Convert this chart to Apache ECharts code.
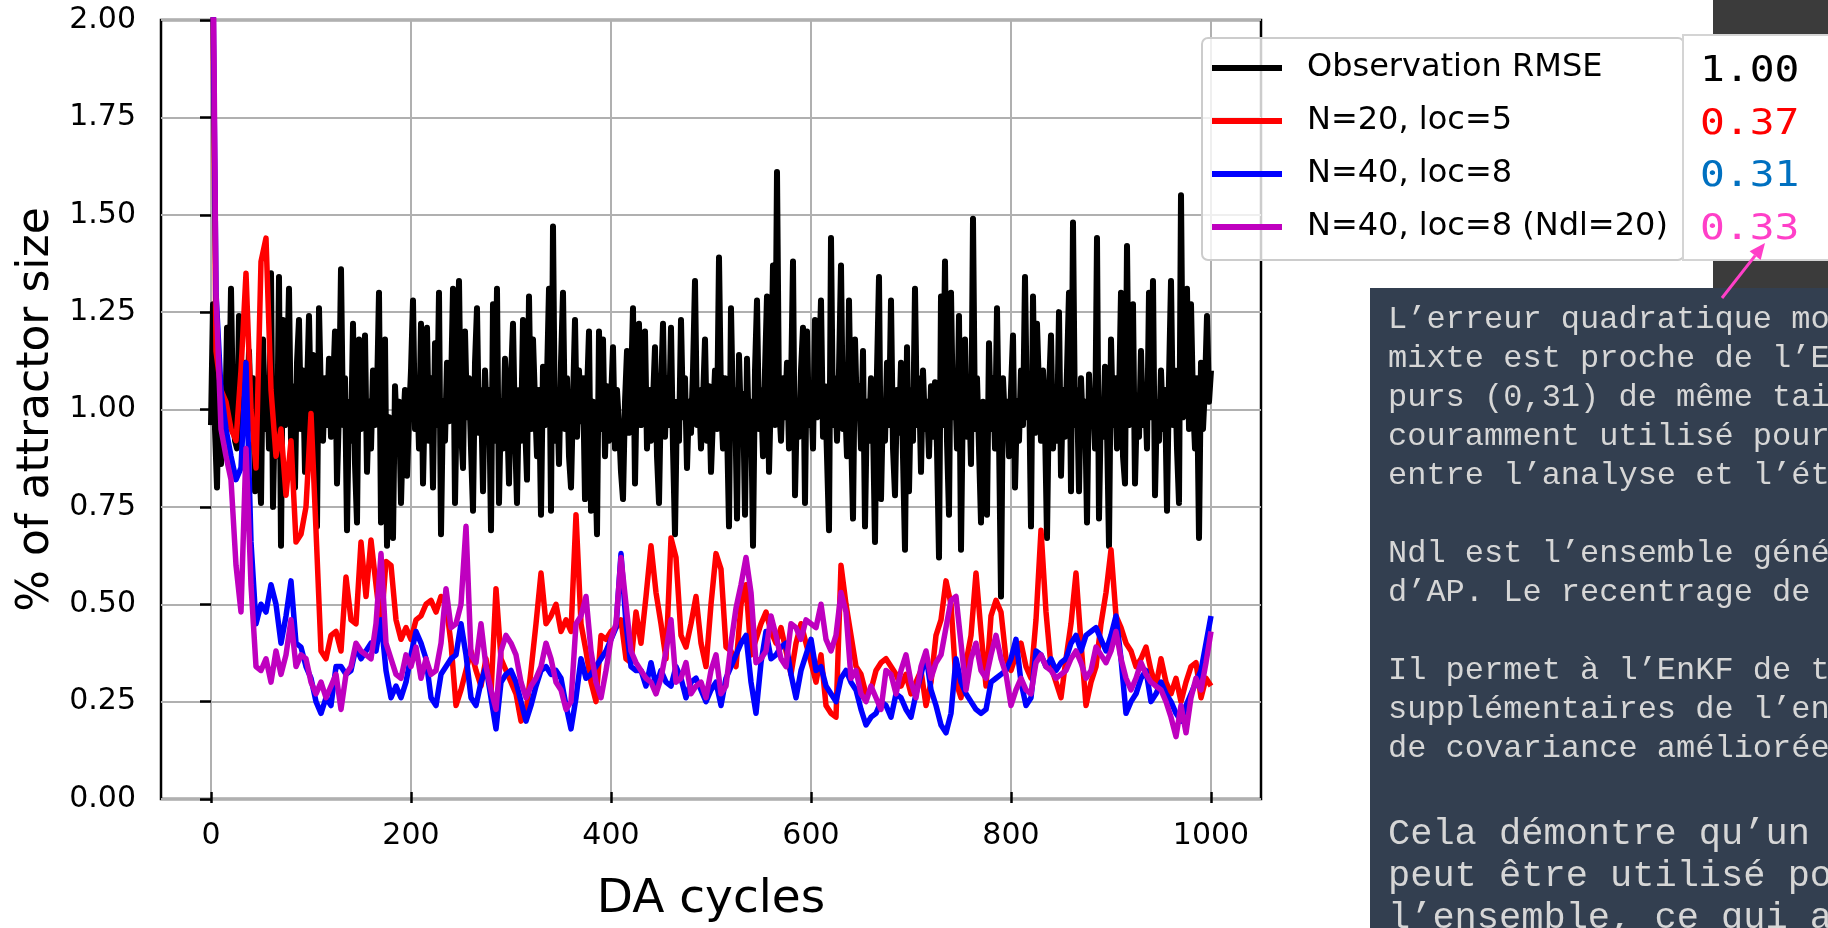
<!DOCTYPE html>
<html>
<head>
<meta charset="utf-8">
<script src="https://cdn.jsdelivr.net/npm/echarts@6/dist/echarts.min.js"></script>
<style>
html,body{margin:0;padding:0;background:#ffffff;}
#chart{width:1828px;height:928px;}
</style>
</head>
<body>
<div id="chart"></div>
<script>
// ---------------- DATA ----------------
const seriesNames = ['Observation RMSE', 'N=20, loc=5', 'N=40, loc=8', 'N=40, loc=8 (Ndl=20)'];
const seriesColors = ['#000000', '#ff0000', '#0000ff', '#bf00bf'];

// DA cycle spacing of the sampled values
const obsStep = 2;
const ensStep = 5;

// Observation RMSE, one value every 2 DA cycles (0..1000)
const obsRMSE = [
0.96,1.27,0.95,0.80,1.10,0.86,1.05,0.92,1.21,0.98,1.31,1.00,0.92,0.90,1.24,1.05,0.94,1.12,0.98,1.15,0.96,1.08,0.79,1.02,0.88,
0.76,1.18,0.95,1.08,0.90,1.35,0.75,1.02,0.88,1.34,0.65,1.23,0.96,1.08,1.31,0.92,1.06,0.80,1.12,1.23,0.95,1.10,0.84,1.05,1.24,
0.98,1.14,0.90,0.70,1.26,1.02,0.92,1.08,0.96,1.13,0.93,1.05,1.20,0.81,1.00,1.36,0.96,1.08,0.69,1.02,0.92,1.22,0.86,0.71,1.18,
0.95,1.08,1.19,0.84,1.02,0.90,1.10,0.96,1.04,1.30,0.71,1.10,1.18,0.65,0.98,0.88,0.67,1.06,0.93,1.02,0.76,0.95,1.05,0.83,0.98,
1.10,1.28,0.95,1.08,0.90,1.22,0.81,1.05,1.21,0.92,1.08,0.80,1.17,0.96,1.30,0.68,1.02,0.92,1.12,0.97,1.05,1.31,0.76,1.06,1.33,
0.95,0.85,1.20,0.98,1.08,0.90,0.74,1.12,1.26,0.94,1.05,0.79,1.10,0.96,1.05,0.69,1.27,0.92,1.31,0.76,1.02,0.90,1.13,1.00,0.81,
1.08,1.22,0.94,0.76,1.05,0.92,1.23,0.97,0.82,1.29,0.95,1.18,1.02,0.88,1.05,0.73,1.11,0.96,1.08,1.31,0.74,1.47,0.92,1.05,0.86,
1.12,1.30,0.95,1.08,0.88,0.80,1.02,1.23,0.93,1.10,0.97,1.08,0.77,1.04,1.20,0.74,1.02,0.90,0.68,1.20,0.95,1.18,0.88,1.06,0.92,
1.02,1.16,0.90,1.05,0.96,0.84,0.77,1.02,1.15,0.94,1.06,1.26,0.81,1.10,1.22,0.96,1.08,1.20,0.90,1.05,0.92,1.02,1.16,0.88,0.76,
1.05,1.22,0.93,1.08,0.96,1.21,0.90,0.68,1.02,0.92,1.23,0.98,1.08,0.85,1.02,0.94,1.10,1.33,0.96,1.05,0.90,1.02,1.18,0.92,1.06,
0.84,0.98,1.10,0.95,1.39,1.02,0.90,1.08,0.96,0.70,1.26,0.98,1.05,0.72,1.14,0.96,1.04,0.73,1.13,0.92,1.02,0.65,1.10,1.28,0.95,
1.05,0.88,1.10,1.29,0.84,1.05,1.37,0.96,1.61,1.02,0.92,1.08,0.98,1.12,0.90,1.05,1.38,0.78,1.02,0.93,1.10,1.21,0.76,1.20,0.96,
1.05,0.90,1.23,0.98,1.10,1.28,0.93,1.06,0.88,0.69,1.44,0.96,1.08,0.92,1.10,1.37,0.95,1.02,0.88,1.28,0.95,0.72,1.18,0.98,1.06,
0.90,1.15,0.70,1.02,0.92,1.08,0.96,0.66,1.10,1.34,0.77,1.02,0.92,1.12,0.96,1.28,0.90,0.78,1.05,0.94,1.12,0.88,0.64,1.16,0.79,
1.05,0.92,1.31,0.96,1.08,0.84,1.10,0.95,1.02,0.88,1.06,0.93,1.07,0.90,0.62,1.29,0.96,1.38,0.92,0.73,1.30,0.98,1.08,0.90,1.24,
0.64,1.05,1.18,0.93,1.06,0.86,1.49,0.95,1.08,0.90,0.71,1.02,0.92,0.73,1.17,0.95,1.08,0.90,1.26,0.93,0.52,1.08,0.96,1.02,0.88,
1.05,1.19,0.80,1.02,0.92,1.10,0.96,1.34,0.98,1.08,0.70,1.29,0.94,1.22,1.05,0.92,1.10,0.96,0.67,1.05,1.19,0.90,1.02,0.92,1.25,
0.83,1.05,0.93,1.10,1.30,0.79,1.48,0.96,1.05,0.79,1.08,0.94,1.02,0.71,1.09,0.96,1.04,0.90,1.44,0.72,1.02,0.93,1.11,0.95,0.65,
1.18,0.96,1.08,0.90,1.02,1.30,0.88,0.81,1.42,0.96,1.05,1.27,0.81,1.02,0.93,1.15,0.96,1.05,0.90,1.30,0.98,1.33,0.78,1.02,0.92,
1.10,0.95,1.05,0.74,1.08,1.33,0.96,1.10,0.90,0.76,1.55,0.98,1.08,1.31,0.95,1.27,1.02,0.90,1.08,0.67,1.12,0.95,1.06,1.24,1.02,1.10
];

// N=20, loc=5 — one value every 5 DA cycles (0..1000)
const n20loc5 = [
2.60,1.15,1.05,1.02,0.95,0.92,1.10,1.35,1.00,0.85,
1.38,1.44,1.05,0.88,0.95,0.78,0.92,0.66,0.68,0.75,
0.99,0.69,0.38,0.36,0.42,0.43,0.38,0.57,0.46,0.45,
0.66,0.52,0.665,0.55,0.44,0.61,0.60,0.46,0.41,0.44,
0.41,0.46,0.47,0.50,0.51,0.48,0.52,0.50,0.40,0.24,
0.28,0.33,0.38,0.33,0.29,0.36,0.27,0.54,0.36,0.33,
0.30,0.27,0.20,0.22,0.33,0.45,0.58,0.45,0.47,0.50,
0.43,0.46,0.43,0.73,0.45,0.38,0.30,0.25,0.42,0.41,
0.43,0.44,0.46,0.36,0.35,0.48,0.40,0.52,0.65,0.53,
0.45,0.36,0.67,0.62,0.42,0.39,0.45,0.52,0.40,0.34,
0.50,0.63,0.59,0.39,0.38,0.34,0.50,0.55,0.37,0.41,
0.45,0.48,0.43,0.40,0.44,0.38,0.32,0.40,0.45,0.40,
0.35,0.30,0.37,0.24,0.22,0.21,0.60,0.50,0.42,0.34,
0.32,0.27,0.28,0.33,0.35,0.36,0.34,0.32,0.29,0.32,
0.27,0.30,0.33,0.24,0.30,0.42,0.46,0.56,0.50,0.30,
0.26,0.35,0.42,0.58,0.43,0.29,0.47,0.51,0.48,0.36,
0.33,0.37,0.40,0.34,0.31,0.46,0.69,0.48,0.34,0.30,
0.26,0.36,0.45,0.58,0.40,0.24,0.30,0.34,0.45,0.53,
0.64,0.47,0.44,0.40,0.38,0.34,0.36,0.39,0.33,0.29,
0.36,0.30,0.27,0.31,0.25,0.30,0.34,0.35,0.26,0.31,
0.29
];

// N=40, loc=8 — one value every 5 DA cycles
const n40loc8 = [
2.60,1.30,1.05,0.95,0.88,0.82,0.85,1.12,0.66,0.45,
0.50,0.48,0.55,0.50,0.40,0.47,0.56,0.40,0.39,0.34,
0.31,0.25,0.22,0.26,0.24,0.34,0.34,0.32,0.33,0.39,
0.36,0.38,0.40,0.38,0.46,0.33,0.26,0.29,0.26,0.30,
0.37,0.43,0.40,0.36,0.26,0.24,0.32,0.34,0.36,0.37,
0.45,0.37,0.26,0.24,0.30,0.34,0.26,0.18,0.30,0.32,
0.33,0.30,0.25,0.20,0.24,0.29,0.33,0.34,0.32,0.33,
0.31,0.24,0.18,0.26,0.36,0.31,0.32,0.34,0.36,0.38,
0.41,0.44,0.63,0.45,0.34,0.33,0.33,0.29,0.35,0.29,
0.33,0.30,0.29,0.34,0.31,0.26,0.30,0.31,0.28,0.25,
0.28,0.30,0.24,0.31,0.34,0.37,0.40,0.42,0.30,0.22,
0.35,0.43,0.36,0.37,0.39,0.40,0.32,0.26,0.33,0.37,
0.41,0.33,0.34,0.29,0.27,0.25,0.31,0.33,0.30,0.28,
0.23,0.19,0.21,0.22,0.25,0.24,0.21,0.27,0.26,0.23,
0.21,0.27,0.32,0.37,0.28,0.24,0.19,0.17,0.22,0.36,
0.30,0.27,0.25,0.23,0.22,0.23,0.30,0.31,0.32,0.33,
0.36,0.41,0.30,0.24,0.26,0.38,0.37,0.34,0.36,0.33,
0.35,0.36,0.40,0.42,0.38,0.42,0.43,0.44,0.41,0.38,
0.42,0.47,0.36,0.22,0.25,0.27,0.31,0.33,0.25,0.27,
0.30,0.27,0.25,0.22,0.20,0.24,0.27,0.30,0.33,0.40,
0.47
];

// N=40, loc=8 (Ndl=20) — one value every 5 DA cycles
const n40loc8Ndl20 = [
2.80,1.30,0.95,0.88,0.82,0.60,0.48,0.90,0.55,0.34,
0.33,0.36,0.30,0.38,0.32,0.37,0.46,0.34,0.37,0.36,
0.30,0.27,0.30,0.26,0.29,0.32,0.23,0.32,0.34,0.40,
0.38,0.37,0.36,0.45,0.63,0.40,0.36,0.32,0.31,0.37,
0.34,0.39,0.31,0.36,0.32,0.33,0.40,0.54,0.44,0.45,
0.50,0.70,0.37,0.35,0.45,0.34,0.28,0.23,0.38,0.42,
0.40,0.37,0.30,0.26,0.29,0.31,0.34,0.40,0.36,0.30,
0.28,0.23,0.25,0.45,0.47,0.52,0.38,0.30,0.26,0.33,
0.41,0.45,0.62,0.50,0.38,0.35,0.33,0.31,0.30,0.27,
0.31,0.38,0.46,0.30,0.31,0.35,0.27,0.29,0.30,0.26,
0.33,0.37,0.27,0.29,0.40,0.49,0.55,0.62,0.53,0.35,
0.36,0.38,0.47,0.42,0.36,0.34,0.45,0.44,0.41,0.46,
0.45,0.44,0.50,0.41,0.38,0.42,0.53,0.48,0.31,0.33,
0.27,0.25,0.29,0.26,0.23,0.33,0.32,0.27,0.33,0.37,
0.30,0.26,0.34,0.38,0.31,0.35,0.37,0.44,0.51,0.52,
0.40,0.28,0.36,0.40,0.33,0.31,0.37,0.42,0.36,0.32,
0.24,0.28,0.31,0.28,0.27,0.35,0.37,0.34,0.33,0.31,
0.32,0.33,0.36,0.38,0.35,0.31,0.33,0.39,0.37,0.35,
0.38,0.43,0.36,0.31,0.28,0.31,0.35,0.32,0.30,0.29,
0.28,0.25,0.21,0.16,0.24,0.17,0.26,0.31,0.28,0.35,
0.43
];

const xTickInterval = 200;
const yTickInterval = 0.25;

// mean RMSE panel
const meanRMSE = ['1.00', '0.37', '0.31', '0.33'];
const meanRMSEColors = ['#000000', '#ff0000', '#0070c0', '#ff3fc8'];

// annotation text (visible part)
const noteLines = [
  'L’erreur quadratique mo',
  'mixte est proche de l’E',
  'purs (0,31) de même tai',
  'couramment utilisé pour',
  'entre l’analyse et l’ét',
  '',
  'Ndl est l’ensemble géné',
  'd’AP. Le recentrage de',
  '',
  'Il permet à l’EnKF de t',
  'supplémentaires de l’en',
  'de covariance améliorée'
];
const noteLines2 = [
  'Cela démontre qu’un',
  'peut être utilisé po',
  'l’ensemble, ce qui a'
];

// ---------------- CHART ----------------
function toPairs(arr, step) { return arr.map((v, i) => [i * step, v]); }

const seriesData = [
  toPairs(obsRMSE, obsStep),
  toPairs(n20loc5, ensStep),
  toPairs(n40loc8, ensStep),
  toPairs(n40loc8Ndl20, ensStep)
];
const seriesWidths = [6, 5.5, 5.5, 5.5];

// arrow geometry (layout)
const arrowTail = [1722, 298], arrowTip = [1765, 243];
const dx = arrowTip[0] - arrowTail[0], dy = arrowTip[1] - arrowTail[1];
const dl = Math.sqrt(dx * dx + dy * dy);
const ux = dx / dl, uy = dy / dl, hl = 16, hw = 7;
const base = [arrowTip[0] - ux * hl, arrowTip[1] - uy * hl];
const headPts = [arrowTip, [base[0] - uy * hw, base[1] + ux * hw], [base[0] + uy * hw, base[1] - ux * hw]];

const FONT = 'DejaVu Sans';

const chart = echarts.init(document.getElementById('chart'), null, {renderer: 'canvas'});
chart.setOption({
  animation: false,
  backgroundColor: '#ffffff',
  color: seriesColors,
  grid: [
    {left: 161, top: 20, width: 1100, height: 779, show: true, borderColor: '#000000', borderWidth: 2.5, backgroundColor: '#ffffff', containLabel: false},
    {left: 211, top: 20, width: 1000, height: 779, show: false, containLabel: false}
  ],
  xAxis: [
    {gridIndex: 0, type: 'value', min: -50, max: 1050,
      axisLine: {show: false}, axisTick: {show: false}, axisLabel: {show: false}, splitLine: {show: false}},
    {gridIndex: 1, type: 'value', min: 0, max: 1000, interval: xTickInterval,
      axisLine: {show: false},
      axisTick: {show: true, inside: false, length: 11, lineStyle: {color: '#000', width: 2.5}},
      axisLabel: {margin: 29, fontSize: 30, fontFamily: FONT, color: '#000', formatter: v => String(v)},
      splitLine: {show: true, lineStyle: {color: '#b0b0b0', width: 2}},
      name: 'DA cycles', nameLocation: 'middle', nameGap: 84,
      nameTextStyle: {fontSize: 47, fontFamily: FONT, color: '#000'}}
  ],
  yAxis: [
    {gridIndex: 0, type: 'value', min: 0, max: 2, interval: yTickInterval,
      axisLine: {show: false},
      axisTick: {show: true, inside: false, length: 11, lineStyle: {color: '#000', width: 2.5}},
      axisLabel: {margin: 25, fontSize: 30, fontFamily: FONT, color: '#000', formatter: v => v.toFixed(2)},
      splitLine: {show: true, lineStyle: {color: '#b0b0b0', width: 2}},
      name: '% of attractor size', nameLocation: 'middle', nameGap: 100,
      nameTextStyle: {fontSize: 44, fontFamily: FONT, color: '#000'}},
    {gridIndex: 1, type: 'value', min: 0, max: 2, show: false}
  ],
  legend: {
    orient: 'vertical', left: 1202, top: 38,
    icon: 'rect', itemWidth: 70, itemHeight: 6, itemGap: 13,
    padding: [10, 10, 13, 10],
    backgroundColor: 'rgba(255,255,255,0.8)', borderColor: '#cccccc', borderWidth: 2, borderRadius: 6,
    selectedMode: false,
    textStyle: {fontFamily: FONT, fontSize: 32, color: '#000', lineHeight: 40, padding: [0, 6, 0, 20]},
    data: seriesNames
  },
  series: seriesNames.map((name, i) => ({
    type: 'line', name: name, xAxisIndex: 0, yAxisIndex: 0,
    data: seriesData[i], showSymbol: false, symbol: 'none', clip: true,
    lineStyle: {width: seriesWidths[i], color: seriesColors[i], join: 'round'},
    itemStyle: {color: seriesColors[i]},
    emphasis: {disabled: true}
  })),
  graphic: [
    {type: 'rect', z: 10, shape: {x: 1713, y: 0, width: 120, height: 290}, style: {fill: '#3b3b3b'}},
    {type: 'rect', z: 11, shape: {x: 1683, y: 35, width: 160, height: 225}, style: {fill: '#ffffff', stroke: '#d4d4d4', lineWidth: 2}},
    ...meanRMSE.map((t, i) => ({
      type: 'text', z: 12, x: 1700, y: 72 + i * 52.5, scaleX: 1.18,
      style: {text: t, fill: meanRMSEColors[i], fontSize: 35, fontFamily: 'DejaVu Sans Mono', verticalAlign: 'middle', align: 'left'}
    })),
    {type: 'rect', z: 10, shape: {x: 1370, y: 288, width: 470, height: 650}, style: {fill: '#333f50'}},
    {type: 'text', z: 12, x: 1388, y: 300,
      style: {text: noteLines.join('\n'), fill: '#d6d6d6', fontSize: 32, fontFamily: 'Liberation Mono', lineHeight: 39, verticalAlign: 'top', align: 'left'}},
    {type: 'text', z: 12, x: 1388, y: 813,
      style: {text: noteLines2.join('\n'), fill: '#d6d6d6', fontSize: 37, fontFamily: 'Liberation Mono', lineHeight: 42, verticalAlign: 'top', align: 'left'}},
    {type: 'line', z: 13, shape: {x1: arrowTail[0], y1: arrowTail[1], x2: base[0], y2: base[1]}, style: {stroke: '#ff3fc8', lineWidth: 3}},
    {type: 'polygon', z: 13, shape: {points: headPts}, style: {fill: '#ff3fc8'}}
  ]
});
</script>
</body>
</html>
